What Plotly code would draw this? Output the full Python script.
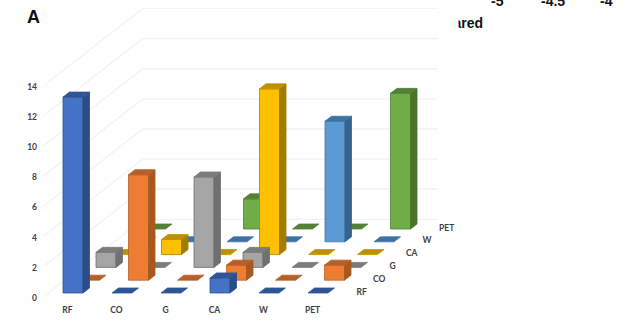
import plotly.graph_objects as go

categories = ["RF", "CO", "G", "CA", "W", "PET"]
y_ticks = [0, 2, 4, 6, 8, 10, 12, 14]

# One list per depth row, front to back; each entry is a column in `categories`.
rf_row = [13, 0, 0, 1, 0, 0]
co_row = [0, 7, 0, 1, 0, 1]
g_row = [1, 0, 6, 1, 0, 0]
ca_row = [0, 1, 0, 11, 0, 0]
w_row = [0, 0, 0, 0, 8, 0]
pet_row = [0, 0, 2, 0, 0, 9]
rows = [rf_row, co_row, g_row, ca_row, w_row, pet_row]

# front, side, top, outline
palette = [
    ("#4472C4", "#2B4C86", "#2F5597", "#2F5597"),
    ("#ED7D31", "#A9591F", "#B5602A", "#B5602A"),
    ("#A5A5A5", "#707070", "#7C7C7C", "#6E6E6E"),
    ("#FFC000", "#A37B00", "#BF9000", "#A88000"),
    ("#5B9BD5", "#36628C", "#3F72A3", "#3F72A3"),
    ("#70AD47", "#4A7329", "#54803A", "#54803A"),
]

W, H = 625, 332
ORIGIN_X, ORIGIN_Y = 63, 293         # where column 0, row 0, value 0 lands
COL_PX, UNIT_PX = 49.0, 15.07        # axis scale: one column, one value unit
ROW_DX, ROW_DY = 16.5 / COL_PX, 12.8 / UNIT_PX   # oblique shift per depth row
BAR_W = 20 / COL_PX
DEPTH_DX, DEPTH_DY = 6.5 / COL_PX, 5.0 / UNIT_PX
WALL_X = -19 / COL_PX                # left edge of the floor
WALL_Y = -3.2 / UNIT_PX              # front edge of the floor
FLOOR_END = 375 / COL_PX             # right end of the back wall


def project(col, row, value):
    return col + row * ROW_DX, value + row * ROW_DY


def polygon(points, fill, line):
    xs = [p[0] for p in points] + [points[0][0]]
    ys = [p[1] for p in points] + [points[0][1]]
    return go.Scatter(x=xs, y=ys, mode="lines", fill="toself", fillcolor=fill,
                      line=dict(color=line, width=0.8), hoverinfo="skip")


fig = go.Figure()

# Gridlines run along the left wall, then across the back wall.
for tick in y_ticks:
    bx = WALL_X + len(rows) * ROW_DX
    by = tick + WALL_Y + len(rows) * ROW_DY
    fig.add_trace(go.Scatter(
        x=[WALL_X, bx, FLOOR_END], y=[tick + WALL_Y, by, by], mode="lines",
        line=dict(color="#F3F2F4", width=1.4), hoverinfo="skip"))

# Painter's order: back row first.
for r in range(len(rows) - 1, -1, -1):
    front, side, top, edge = palette[r]
    for c, value in enumerate(rows[r]):
        x0, y0 = project(c, r, 0)
        x1 = x0 + BAR_W
        y1 = y0 + value
        dx, dy = DEPTH_DX, DEPTH_DY
        if value > 0:
            fig.add_trace(polygon([(x0, y0), (x1, y0), (x1, y1), (x0, y1)], front, edge))
            fig.add_trace(polygon([(x1, y0), (x1 + dx, y0 + dy), (x1 + dx, y1 + dy), (x1, y1)], side, side))
        fig.add_trace(polygon([(x0, y1), (x1, y1), (x1 + dx, y1 + dy), (x0 + dx, y1 + dy)], top, top))

label_font = dict(family="Lato", size=8.5, color="#404040", weight="bold")

# Value labels beside the left wall.
fig.add_trace(go.Scatter(
    x=[-(ORIGIN_X - 37) / COL_PX] * len(y_ticks),
    y=[t + WALL_Y - 2.5 / UNIT_PX for t in y_ticks],
    text=[str(t) for t in y_ticks], mode="text", textposition="middle left",
    textfont=label_font, hoverinfo="skip"))

# Column labels under the floor.
fig.add_trace(go.Scatter(
    x=[c + BAR_W / 2 - 5.5 / COL_PX for c in range(len(categories))],
    y=[-17.5 / UNIT_PX] * len(categories),
    text=categories, mode="text", textposition="middle center",
    textfont=label_font, hoverinfo="skip"))

# Row labels along the right edge of the floor.
fig.add_trace(go.Scatter(
    x=[len(categories) - 1 + r * ROW_DX + 48.5 / COL_PX for r in range(len(categories))],
    y=[r * ROW_DY + 0.5 / UNIT_PX for r in range(len(categories))],
    text=categories, mode="text", textposition="middle right",
    textfont=label_font, hoverinfo="skip"))

# Caption fragment, its left part hidden by the panel rectangle below.
fig.add_trace(go.Scatter(
    x=[(483 - ORIGIN_X) / COL_PX], y=[(ORIGIN_Y - 24) / UNIT_PX],
    text=["<b>ared</b>"], mode="text", textposition="middle left",
    textfont=dict(family="Liberation Sans", size=14, color="#111111"), hoverinfo="skip"))

annotations = [
    dict(x=33 / W, y=1 - 17 / H, text="<b>A</b>", font=dict(family="Liberation Sans", size=18, color="#111111")),
    dict(x=498 / W, y=1 - 0.5 / H, text="<b>-5</b>", font=dict(family="Liberation Sans", size=14, color="#111111")),
    dict(x=553 / W, y=1 - 0.5 / H, text="<b>-4.5</b>", font=dict(family="Liberation Sans", size=14, color="#111111")),
    dict(x=606 / W, y=1 - 0.5 / H, text="<b>-4</b>", font=dict(family="Liberation Sans", size=14, color="#111111")),
]
for a in annotations:
    a.update(xref="paper", yref="paper", xanchor="center", yanchor="middle", showarrow=False)

fig.update_layout(
    width=W, height=H, margin=dict(l=0, r=0, t=0, b=0),
    paper_bgcolor="white", plot_bgcolor="white", showlegend=False,
    annotations=annotations,
    shapes=[dict(type="rect", layer="above", xref="paper", yref="paper",
                 x0=425 / W, x1=458.5 / W, y0=1 - 35 / H, y1=1 - 13 / H,
                 fillcolor="white", line=dict(width=0))],
    xaxis=dict(range=[-ORIGIN_X / COL_PX, (W - ORIGIN_X) / COL_PX], visible=False, fixedrange=True),
    yaxis=dict(range=[-(H - ORIGIN_Y) / UNIT_PX, ORIGIN_Y / UNIT_PX], visible=False, fixedrange=True),
)

fig.write_html("out.html", config=dict(displayModeBar=False))
